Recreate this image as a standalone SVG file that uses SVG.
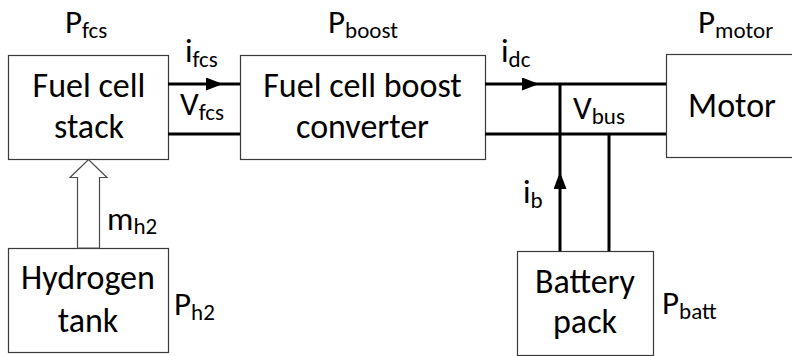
<svg xmlns="http://www.w3.org/2000/svg" width="792" height="356" viewBox="0 0 792 356">
<style>
  .box{fill:#fff;stroke:#3a3a3a;stroke-width:1.2}
  .t{font-family:Carlito,Lato,"Liberation Sans",sans-serif;font-size:34px;fill:#000}
  .lbl{font-family:Carlito,Lato,"Liberation Sans",sans-serif;font-size:33px;fill:#000}
  .sub{font-size:23px}
  .wire{fill:none;stroke:#000;stroke-width:3}
</style>
<defs>
  <marker id="ah" viewBox="0 0 17 13" markerWidth="17" markerHeight="13" refX="17" refY="6.5" orient="auto" markerUnits="userSpaceOnUse">
    <path d="M0,0 L17,6.5 L0,13 z" fill="#000"/>
  </marker>
</defs>
<rect width="792" height="356" fill="#fff"/>

<g id="fuel-cell-stack">
  <rect class="box" x="8.5" y="55.5" width="160" height="104"/>
  <text class="t" text-anchor="middle" x="89" y="97">Fuel cell</text>
  <text class="t" text-anchor="middle" x="89" y="138">stack</text>
</g>
<g id="boost-converter">
  <rect class="box" x="240.5" y="55.5" width="245" height="104"/>
  <text class="t" text-anchor="middle" x="362.5" y="97">Fuel cell boost</text>
  <text class="t" text-anchor="middle" x="362.5" y="138">converter</text>
</g>
<g id="motor">
  <rect class="box" x="666.5" y="54.5" width="140" height="103"/>
  <text class="t" text-anchor="middle" x="732" y="117">Motor</text>
</g>
<g id="hydrogen-tank">
  <rect class="box" x="8.5" y="248.5" width="160" height="104"/>
  <text class="t" text-anchor="middle" x="88" y="289">Hydrogen</text>
  <text class="t" text-anchor="middle" x="88" y="332">tank</text>
</g>
<g id="battery-pack">
  <rect class="box" x="517.5" y="251.5" width="136" height="104"/>
  <text class="t" text-anchor="middle" x="585" y="293">Battery</text>
  <text class="t" text-anchor="middle" x="585" y="333">pack</text>
</g>

<g id="connectors">
  <polyline class="wire" points="168,84 223,84 240,84" marker-mid="url(#ah)"/>
  <line class="wire" x1="168" y1="134" x2="240" y2="134"/>
  <polyline class="wire" points="485,84 539,84 666,84" marker-mid="url(#ah)"/>
  <line class="wire" x1="485" y1="134" x2="666" y2="134"/>
  <polyline class="wire" points="560,251 560,172 560,85" marker-mid="url(#ah)"/>
  <line class="wire" x1="609" y1="134" x2="609" y2="251"/>
  <polygon points="77.5,248 77.5,177.5 70,177.5 88.5,159.5 107,177.5 99.5,177.5 99.5,248" fill="#fff" stroke="#4a4a4a" stroke-width="1.2"/>
</g>

<g id="labels">
  <text class="lbl" x="65" y="33">P<tspan class="sub" dy="5">fcs</tspan></text>
  <text class="lbl" x="328" y="33">P<tspan class="sub" dy="5">boost</tspan></text>
  <text class="lbl" x="698" y="33">P<tspan class="sub" dy="5">motor</tspan></text>
  <text class="lbl" x="185" y="62">i<tspan class="sub" dy="5">fcs</tspan></text>
  <text class="lbl" x="180" y="115">V<tspan class="sub" dy="5">fcs</tspan></text>
  <text class="lbl" x="501" y="62">i<tspan class="sub" dy="5">dc</tspan></text>
  <text class="lbl" x="573" y="119">V<tspan class="sub" dy="5">bus</tspan></text>
  <text class="lbl" x="523" y="203">i<tspan class="sub" dy="5">b</tspan></text>
  <text class="lbl" x="107" y="230">m<tspan class="sub" dy="4">h2</tspan></text>
  <text class="lbl" x="174" y="315">P<tspan class="sub" dy="5">h2</tspan></text>
  <text class="lbl" x="662" y="314">P<tspan class="sub" dy="5">batt</tspan></text>
</g>
</svg>
